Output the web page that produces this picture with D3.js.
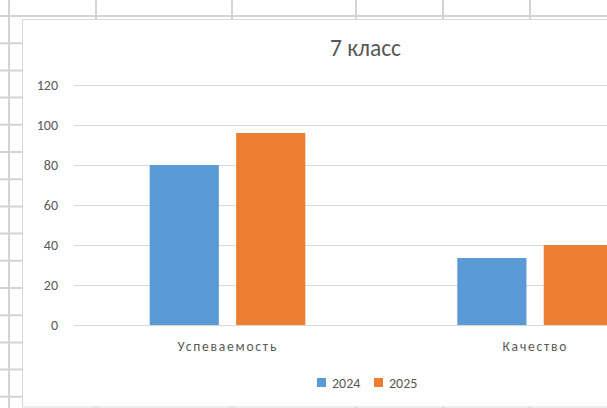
<!DOCTYPE html>
<html>
<head>
<meta charset="utf-8">
<script src="https://cdn.jsdelivr.net/npm/d3@7"></script>
<style>
  body { margin: 0; background: #fff; }
  svg { display: block; font-family: Carlito, Calibri, Lato, sans-serif; }
</style>
</head>
<body>
<svg id="chart"></svg>
<script>
// chart data
var categories = ["Успеваемость", "Качество"];
var seriesNames = ["2024", "2025"];
var values2024 = [80, 33.5];
var values2025 = [96, 40];
var yTicks = [0, 20, 40, 60, 80, 100, 120];
var title = "7 класс";

var colors = ["#5b9bd5", "#ed7d31"];
var width = 607, height = 408;

var svg = d3.select("#chart").attr("width", width).attr("height", height);

// spreadsheet grid behind the chart
var sheetCols = [9, 96, 232, 356, 443, 530];
var sheetRows = d3.range(16, height, 27.2);
svg.append("g").selectAll("line").data(sheetCols).enter().append("line")
  .attr("x1", d => d).attr("x2", d => d)
  .attr("y1", 0).attr("y2", height)
  .attr("stroke", "#d4d4d4").attr("stroke-width", 2);
svg.append("g").selectAll("line").data(sheetRows).enter().append("line")
  .attr("x1", 0).attr("x2", width)
  .attr("y1", d => d).attr("y2", d => d)
  .attr("stroke", "#d4d4d4").attr("stroke-width", 2);

// chart box
svg.append("rect")
  .attr("x", 22.5).attr("y", 19.5)
  .attr("width", 700).attr("height", 387.5)
  .attr("fill", "#fff").attr("stroke", "#d9d9d9");

var x = d3.scaleBand().domain(categories).range([74, 74 + 2 * 307.6]);
// position of the two bars inside one category band
var xs = d3.scaleBand().domain(seriesNames)
  .range([75.7, 75.7 + 155.6]).paddingInner(0.2);
var y = d3.scaleLinear().domain([0, 120]).range([325, 85]);

// gridlines
svg.append("g").selectAll("line").data(yTicks).enter().append("line")
  .attr("x1", 74).attr("x2", 74 + 2 * 307.6)
  .attr("y1", d => y(d) + 0.5).attr("y2", d => y(d) + 0.5)
  .attr("stroke", "#d9d9d9");

// y axis labels
var yAxis = svg.append("g")
  .attr("transform", "translate(60,0)")
  .call(d3.axisLeft(y).tickValues(yTicks).tickSize(0).tickPadding(2));
yAxis.select(".domain").remove();
yAxis.selectAll("text").attr("fill", "#595959")
  .style("font-size", "14px").style("font-family", "Carlito, Calibri, Lato, sans-serif");

// bars
var rows = categories.map((c, i) => ({ cat: c, vals: [values2024[i], values2025[i]] }));
var groups = svg.append("g").selectAll("g").data(rows).enter().append("g")
  .attr("transform", d => "translate(" + x(d.cat) + ",0)");
groups.selectAll("rect")
  .data(d => d.vals.map((v, j) => ({ s: seriesNames[j], v: v, j: j })))
  .enter().append("rect")
  .attr("x", d => xs(d.s))
  .attr("width", xs.bandwidth())
  .attr("y", d => y(d.v))
  .attr("height", d => y(0) - y(d.v))
  .attr("fill", d => colors[d.j]);

// category labels
svg.append("g").selectAll("text").data(categories).enter().append("text")
  .attr("x", d => x(d) + x.bandwidth() / 2)
  .attr("y", 351)
  .attr("text-anchor", "middle")
  .attr("fill", "#595959")
  .style("font-size", "13.5px")
  .style("letter-spacing", "1.8px")
  .text(d => d);

// title
svg.append("text")
  .attr("x", 365.5).attr("y", 56)
  .attr("text-anchor", "middle")
  .attr("fill", "#595959")
  .style("font-size", "23.5px")
  .text(title);

// legend
var legend = svg.append("g").selectAll("g").data(seriesNames).enter().append("g")
  .attr("transform", (d, i) => "translate(" + (317 + i * 57) + ",378)");
legend.append("rect").attr("width", 9).attr("height", 9)
  .attr("fill", (d, i) => colors[i]);
legend.append("text").attr("x", 15).attr("y", 9.5)
  .attr("fill", "#595959").style("font-size", "14px")
  .text(d => d);
</script>
</body>
</html>
